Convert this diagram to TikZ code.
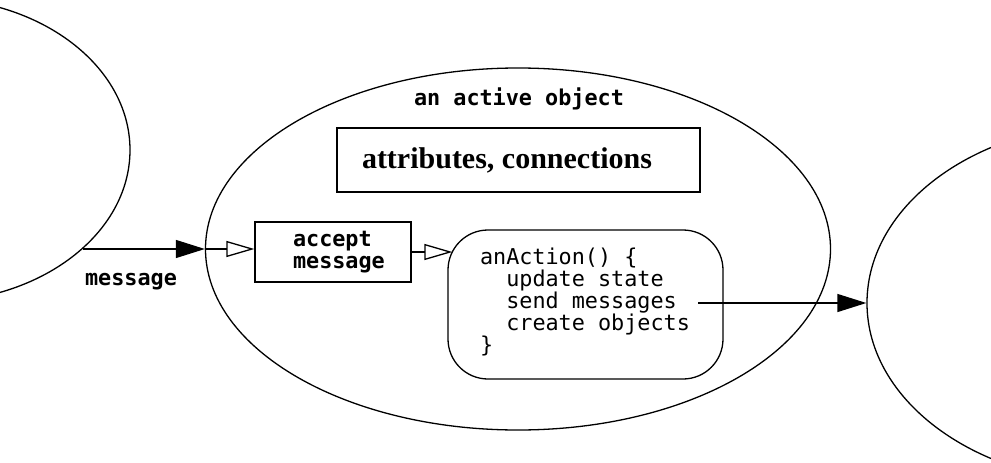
\documentclass[tikz,border=0pt]{standalone}
\usepackage{fontspec}
\setmonofont{DejaVu Sans Mono}
\newfontfamily\attrfont{Liberation Serif}
\usetikzlibrary{arrows.meta,shapes.geometric}
\newcommand{\monosize}{\fontsize{21.8}{22}\selectfont}

\begin{document}
\begin{tikzpicture}[x=1pt, y=-1pt, line width=1.3pt,
		obj/.style={draw, ellipse, inner sep=0pt},
		box/.style={draw, rectangle, inner sep=0pt},
		mono/.style={font=\ttfamily\monosize},
		monobold/.style={font=\ttfamily\bfseries\monosize},
		send/.style={-{Triangle[length=29pt,width=18pt]}},
		openarrow/.style={-{Triangle[open,length=28pt,width=16pt]}}]
		\useasboundingbox (0,0) rectangle (991,463);
		\node[obj, minimum width=400pt, minimum height=304pt] (sender) at (-70,150) {};
		\node[obj, minimum width=625pt, minimum height=362pt] (activeobj) at (518,249) {};
		\node[obj, minimum width=500pt, minimum height=360pt] (receiver) at (1117,303) {};
		\node[monobold, anchor=base] (activelabel) at (519,105) {an active object};
		\node[box, minimum height=64pt, inner xsep=25pt, text width=313pt, align=left, font=\attrfont\bfseries\fontsize{30}{31}\selectfont] (attrs) at (518.5,160)
		{\spaceskip=0pt attributes, connections};
		\node[box, monobold, minimum height=60pt, inner xsep=38pt, text width=80pt, align=left] (accept) at (333,252) {accept\\message};
		\node[box, mono, rounded corners=40pt, minimum height=149pt, inner xsep=32pt, text width=211pt, align=left] (action) at (585.5,304.5)
		{\spaceskip=0pt anAction() \{\\\hphantom{xx}update state\\\hphantom{xx}send messages\\\hphantom{xx}create objects\\\}\rule[-8pt]{0pt}{1pt}};
		\node[monobold, anchor=base] (msglabel) at (131,285) {message};
		\coordinate (msgstart) at (83,249);
		\coordinate (sendstart) at (698,303);
		\path[send]
		(msgstart) edge (activeobj.west)
		(sendstart) edge (receiver.west);
		\path[openarrow]
		(activeobj.west) edge (activeobj.west -| accept.west)
		(accept.east) edge[shorten >=-5pt] (accept.east -| action.west);
	\end{tikzpicture}
\end{document}
